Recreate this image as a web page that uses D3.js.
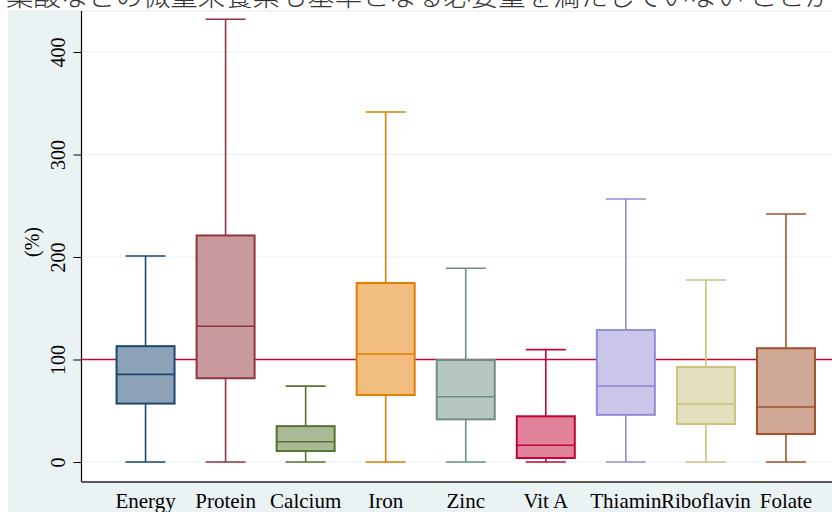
<!DOCTYPE html>
<html><head><meta charset="utf-8">
<script src="https://cdn.jsdelivr.net/npm/d3@7"></script>
<style>html,body{margin:0;padding:0;background:#fff;}svg{display:block;}
.serif{font-family:"Liberation Serif","Times New Roman",Times,"DejaVu Serif",serif;}</style>
</head><body>
<script>
const categories = ["Energy","Protein","Calcium","Iron","Zinc","Vit A","Thiamin","Riboflavin","Folate"];
const whiskerLow = [0,0,0,0,0,0,0,0,0];
const q1 = [57,81.7,10.7,65.4,41.6,3.9,46,37,27.3];
const median = [85.5,132.4,19.8,105.4,63.7,16.3,74,56.6,53.7];
const q3 = [113,221,35,174.6,99.5,44.6,128.8,92.7,111];
const whiskerHigh = [201,432,74,341.5,189,109.6,256.6,177.6,242];
const yTicks = [0,100,200,300,400];
const refValue = 100;
const lineColors = ["#1a476f","#90353b","#55752f","#e37e00","#6e8e84","#c10534","#938dd2","#cac27e","#a0522d"];
const fillColors = ["#8ca3b7","#c8999d","#aaba97","#f1be80","#b6c6c1","#e0829a","#c9c6e9","#e4e0be","#d0a896"];
const yTitle = "(%)";
const topText = "葉酸などの微量栄養素も基準となる必要量を満たしていない ことが";

const W = 832, H = 512;
const svg = d3.select("body").append("svg").attr("width", W).attr("height", H);
svg.append("rect").attr("width", W).attr("height", H).attr("fill", "#fff");
// graph region
svg.append("rect").attr("x", 8).attr("y", 11).attr("width", W).attr("height", H).attr("fill", "#eaf2f3");
const plotL = 81.5, plotR = 850, plotT = 11, plotB = 482;
svg.append("rect").attr("x", plotL).attr("y", plotT).attr("width", plotR - plotL).attr("height", plotB - plotT).attr("fill", "#fff");
svg.append("line").attr("x1", 8).attr("x2", W).attr("y1", 11).attr("y2", 11).attr("stroke", "#e4e8ea").attr("stroke-width", 1);

// cropped caption text
svg.append("text").attr("x", 6).attr("y", 6).attr("font-family", "Noto Sans CJK JP").attr("font-size", 27.4)
  .attr("font-weight", 300).attr("fill", "#333").attr("xml:space", "preserve").style("white-space", "pre").text(topText);

const x = d3.scalePoint().domain(categories).range([plotL, plotR]).padding(0.8);
const y = d3.scaleLinear().domain([0, 400]).range([462, 52]);

// gridlines
svg.append("g").selectAll("line").data(yTicks).join("line")
  .attr("x1", plotL).attr("x2", plotR).attr("y1", d => y(d)).attr("y2", d => y(d))
  .attr("stroke", "#eaf2f3").attr("stroke-width", 1.2);

// y axis
const yAxis = d3.axisLeft(y).tickValues(yTicks).tickSize(8).tickPadding(6);
const gy = svg.append("g").attr("transform", `translate(${plotL},0)`).call(yAxis);
gy.attr("font-family", null).attr("font-size", null);
gy.select(".domain").remove();
gy.selectAll(".tick line").attr("stroke", "#000").attr("stroke-width", 1);
gy.selectAll(".tick text").attr("class", "serif").attr("font-size", 20).attr("fill", "#000")
  .attr("transform", "rotate(-90)").attr("text-anchor", "middle").attr("x", 0).attr("dy", 0)
  .attr("y", -17);
svg.append("line").attr("x1", plotL).attr("x2", plotL).attr("y1", plotT).attr("y2", plotB).attr("stroke", "#000").attr("stroke-width", 1.2);

// y title
svg.append("text").attr("class", "serif").attr("transform", `translate(39,242) rotate(-90)`).attr("text-anchor", "middle")
  .attr("font-size", 20).attr("fill", "#000").text(yTitle);

// x axis line
svg.append("line").attr("x1", plotL).attr("x2", plotR).attr("y1", plotB).attr("y2", plotB).attr("stroke", "#5a5a5a").attr("stroke-width", 1.8);

// reference line (drawn under boxes)
svg.append("line").attr("x1", plotL).attr("x2", plotR).attr("y1", y(refValue)).attr("y2", y(refValue))
  .attr("stroke", "#c10534").attr("stroke-width", 1.4);

const boxW = 58, capW = 40;
const g = svg.append("g").selectAll("g").data(categories).join("g");
g.each(function(c, i) {
  const s = d3.select(this), cx = x(c), col = lineColors[i];
  s.append("line").attr("x1", cx).attr("x2", cx).attr("y1", y(whiskerHigh[i])).attr("y2", y(q3[i])).attr("stroke", col).attr("stroke-width", 1.6);
  s.append("line").attr("x1", cx).attr("x2", cx).attr("y1", y(q1[i])).attr("y2", y(whiskerLow[i])).attr("stroke", col).attr("stroke-width", 1.6);
  s.append("line").attr("x1", cx - capW/2).attr("x2", cx + capW/2).attr("y1", y(whiskerHigh[i])).attr("y2", y(whiskerHigh[i])).attr("stroke", col).attr("stroke-width", 1.6);
  s.append("line").attr("x1", cx - capW/2).attr("x2", cx + capW/2).attr("y1", y(whiskerLow[i])).attr("y2", y(whiskerLow[i])).attr("stroke", col).attr("stroke-width", 1.6);
  s.append("rect").attr("x", cx - boxW/2).attr("width", boxW).attr("y", y(q3[i])).attr("height", y(q1[i]) - y(q3[i]))
    .attr("fill", fillColors[i]).attr("stroke", col).attr("stroke-width", 2);
  s.append("line").attr("x1", cx - boxW/2).attr("x2", cx + boxW/2).attr("y1", y(median[i])).attr("y2", y(median[i])).attr("stroke", col).attr("stroke-width", 1.6);
});

// x labels
svg.append("g").selectAll("text").data(categories).join("text")
  .attr("class", "serif")
  .attr("x", d => x(d)).attr("y", 508).attr("text-anchor", "middle")
  .attr("font-size", 21).attr("fill", "#000").text(d => d);
</script>
</body></html>
